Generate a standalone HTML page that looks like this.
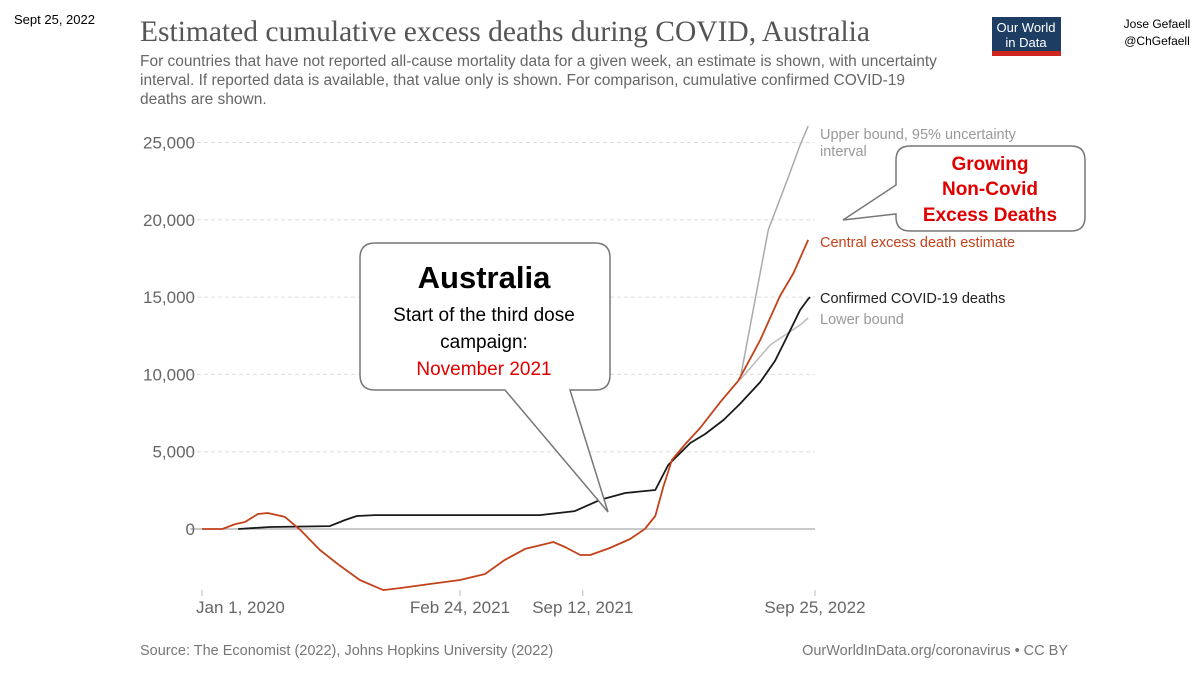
<!DOCTYPE html>
<html><head><meta charset="utf-8"><style>
body{margin:0;background:#fff;}
svg{display:block;font-family:"Liberation Sans",sans-serif;}
</style></head><body>
<svg id="chart" width="1200" height="675" viewBox="0 0 1200 675" xmlns="http://www.w3.org/2000/svg">
<text x="14" y="24" font-size="13" fill="#000">Sept 25, 2022</text>
<text x="1157" y="28" font-size="12" text-anchor="middle">Jose Gefaell</text>
<text x="1157" y="45" font-size="12" text-anchor="middle">@ChGefaell</text>
<g>
<rect x="992" y="17" width="69" height="39" fill="#1d3d63"/>
<rect x="992" y="51" width="69" height="5" fill="#ce261e"/>
<text x="1026" y="32" font-size="13" fill="#fff" text-anchor="middle">Our World</text>
<text x="1026" y="47" font-size="13" fill="#fff" text-anchor="middle">in Data</text>
</g>
<text x="140" y="41" font-family="Liberation Serif,serif" font-size="29.5" fill="#555">Estimated cumulative excess deaths during COVID, Australia</text>
<g font-size="15.5" fill="#666">
<text x="140" y="66">For countries that have not reported all-cause mortality data for a given week, an estimate is shown, with uncertainty</text>
<text x="140" y="85">interval. If reported data is available, that value only is shown. For comparison, cumulative confirmed COVID-19</text>
<text x="140" y="104">deaths are shown.</text>
</g>
<g id="grid"></g>
<g id="xaxis"></g>
<g id="series"></g>
<g font-size="14.5">
<text x="820" y="139" fill="#999">Upper bound, 95% uncertainty</text>
<text x="820" y="156" fill="#999">interval</text>
<text x="820" y="247" fill="#c2421b">Central excess death estimate</text>
<text x="820" y="303" fill="#222">Confirmed COVID-19 deaths</text>
<text x="820" y="324" fill="#999">Lower bound</text>
</g>
<g>
<path d="M375,243 H595 Q610,243 610,258 V375 Q610,390 595,390 H570 L608,512 L505,390 H375 Q360,390 360,375 V258 Q360,243 375,243 Z" fill="#fff" stroke="#777" stroke-width="1.5"/>
<text x="484" y="288" font-size="31" font-weight="bold" text-anchor="middle" fill="#000">Australia</text>
<text x="484" y="321" font-size="19" text-anchor="middle" fill="#000">Start of the third dose</text>
<text x="484" y="348" font-size="19" text-anchor="middle" fill="#000">campaign:</text>
<text x="484" y="375" font-size="19" text-anchor="middle" fill="#e00000">November 2021</text>
</g>
<g>
<path d="M910,146 H1071 Q1085,146 1085,160 V217 Q1085,231 1071,231 H910 Q896,231 896,217 V214 L843,220 L896,185 V160 Q896,146 910,146 Z" fill="#fff" stroke="#777" stroke-width="1.5"/>
<text x="990" y="170" font-size="19" font-weight="bold" text-anchor="middle" fill="#e00000">Growing</text>
<text x="990" y="195" font-size="19" font-weight="bold" text-anchor="middle" fill="#e00000">Non-Covid</text>
<text x="990" y="221" font-size="19" font-weight="bold" text-anchor="middle" fill="#e00000">Excess Deaths</text>
</g>
<text x="140" y="655" font-size="14.5" fill="#777">Source: The Economist (2022), Johns Hopkins University (2022)</text>
<text x="1068" y="655" font-size="14.5" fill="#777" text-anchor="end">OurWorldInData.org/coronavirus • CC BY</text>
</svg>
<script>
const yTicks=[0,5000,10000,15000,20000,25000];
const yTickLabels=["0","5,000","10,000","15,000","20,000","25,000"];
const xTickDays=[0,420,620,998];
const xTickLabels=["Jan 1, 2020","Feb 24, 2021","Sep 12, 2021","Sep 25, 2022"];
const centralDays=[0,33,54,70,91,107,135,160,192,225,257,295,322,371,420,461,493,526,559,572,591,616,632,664,697,721,738,751,765,787,811,844,873,909,941,963,987];
const centralVals=[0,0,320,450,970,1035,780,-60,-1360,-2390,-3300,-3950,-3820,-3560,-3300,-2910,-2000,-1290,-970,-840,-1165,-1680,-1680,-1230,-650,0,840,2720,4460,5500,6530,8220,9580,12230,15070,16560,18700];
const confirmedDays=[59,111,208,233,252,282,550,607,648,689,738,759,795,819,849,876,909,933,950,974,987,990];
const confirmedVals=[0,130,190,580,840,900,900,1160,1880,2330,2520,4140,5560,6140,7050,8090,9510,10870,12230,14170,14880,15000];
const upperDays=[876,922,953,974,987];
const upperVals=[9640,19350,22580,24850,26070];
const lowerDays=[876,925,974,987];
const lowerVals=[9640,11900,13200,13650];

const NS="http://www.w3.org/2000/svg";
const xS=d=>202+d*0.6142;
const yS=v=>529-v*(77.3/5000);
function mk(tag,attrs,parent){const e=document.createElementNS(NS,tag);for(const k in attrs)e.setAttribute(k,attrs[k]);parent.appendChild(e);return e;}
const grid=document.getElementById('grid');
yTicks.forEach((t,i)=>{
  const y=yS(t);
  const l=mk('line',{x1:190,x2:815,y1:y,y2:y,stroke:t===0?'#aaa':'#ddd','stroke-width':t===0?1.2:1,'stroke-dasharray':t===0?'none':'4,3'},grid);
  
  
  const tx=mk('text',{x:195,y:y+6,'text-anchor':'end','font-size':17,fill:'#666'},grid);
  tx.textContent=yTickLabels[i];
  
  
});
const xa=document.getElementById('xaxis');
xTickDays.forEach((d,i)=>{
  const x=xS(d);
  const l=mk('line',{x1:x,x2:x,y1:590,y2:596,stroke:'#bbb'},xa);
  
  
  const tx=mk('text',{x:i===0?x-6:x,y:613,'text-anchor':i===0?'start':'middle','font-size':17,fill:'#666'},xa);
  tx.textContent=xTickLabels[i];
  
  
});
const sg=document.getElementById('series');
function line(days,vals,color,name,w){
  const p=days.map((d,i)=>(i?'L':'M')+xS(d).toFixed(1)+','+yS(vals[i]).toFixed(1)).join(' ');
  const e=mk('path',{d:p,fill:'none',stroke:color,'stroke-width':w,'stroke-linejoin':'round'},sg);
  
  
}
line(upperDays,upperVals,'#aaa','upper-bound-line',1.5);
line(lowerDays,lowerVals,'#bbb','lower-bound-line',1.5);
line(confirmedDays,confirmedVals,'#1a1a1a','confirmed-deaths-line',1.8);
line(centralDays,centralVals,'#c2421b','central-estimate-line',1.8);
</script>
</body></html>
